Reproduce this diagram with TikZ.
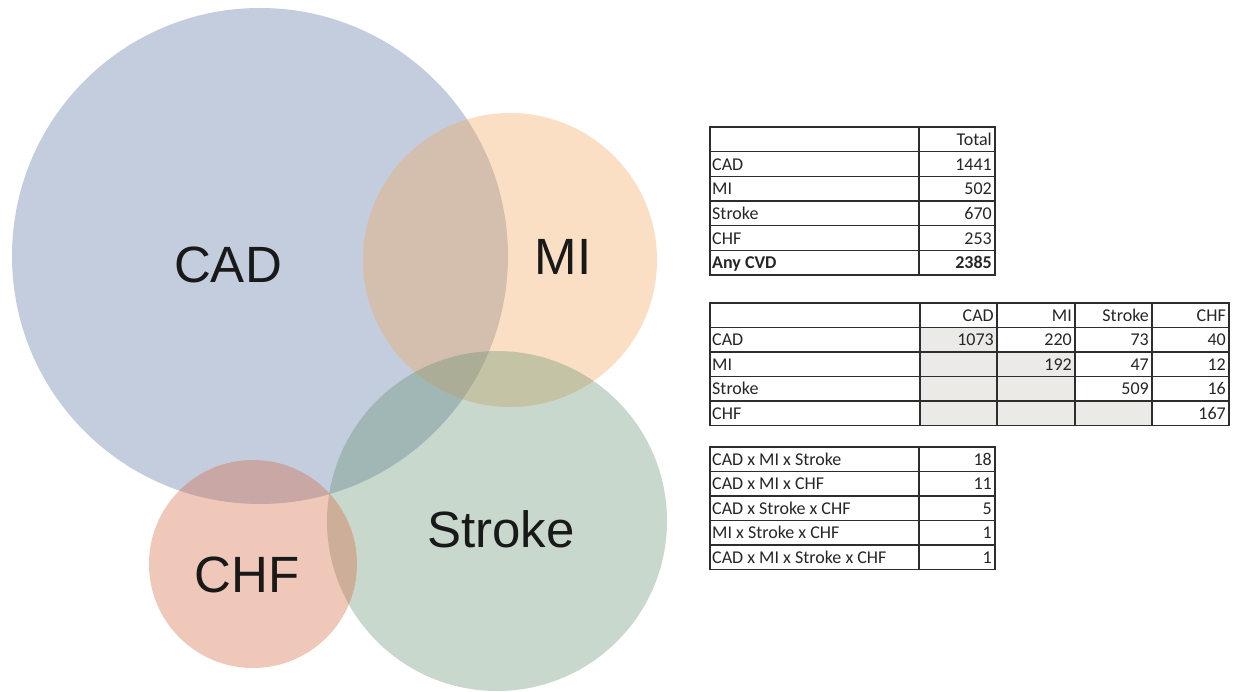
\documentclass[tikz,border=0pt]{standalone}
\usepackage{fontspec}
\setmainfont{Liberation Sans}
\newfontfamily\calfont{Carlito}
\definecolor{cadc}{RGB}{84,112,161}
\definecolor{mic}{RGB}{246,164,86}
\definecolor{strc}{RGB}{98,144,109}
\definecolor{chfc}{RGB}{212,98,58}
\definecolor{gridc}{RGB}{45,45,45}
\definecolor{cellgray}{RGB}{236,234,231}
\begin{document}
\begin{tikzpicture}[x=1pt,y=-1pt,
  venn/.style={font=\fontsize{51}{60}\selectfont, inner sep=0pt, anchor=base, text=black!90},
  lcell/.style={font=\calfont\fontsize{18}{21}\selectfont, inner sep=0pt, anchor=base west, text=black!85},
  rcell/.style={font=\calfont\fontsize{18}{21}\selectfont, inner sep=0pt, anchor=base east, text=black!85},
  grid/.style={draw=gridc, line width=1.2pt},
  blob/.style={fill opacity=0.35}]
\useasboundingbox (0,0) rectangle (1238,692);
\fill[white] (0,0) rectangle (1238,692);

% ---- Venn circles ----
\fill[cadc, blob] (260,256) circle (248pt);
\fill[mic, blob] (510,260) circle (147pt);
\fill[strc, blob] (497,521) circle (170pt);
\fill[chfc, blob] (253,564) circle (104pt);

\node[venn] (tcad) at (228,283) {CAD};
\node[venn] (tmi) at (563,275) {MI};
\node[venn] (tstroke) at (501,547) {Stroke};
\node[venn] (tchf) at (247,592) {CHF};

% ---- Table 1 ----
\draw[grid] (710,127) rectangle (995,275);
\foreach \i in {1,...,5} \draw[grid] (710,{127+\i*24.67}) -- (995,{127+\i*24.67});
\draw[grid] (919,127) -- (919,275);
\node[rcell] (t1h) at (992,{127+0.5*24.67+6}) {Total};
\foreach \lab/\val [count=\i] in {CAD/1441, MI/502, Stroke/670, CHF/253} {
  \node[lcell] (t1l\i) at (712,{127+(\i+0.5)*24.67+6}) {\lab};
  \node[rcell] (t1v\i) at (992,{127+(\i+0.5)*24.67+6}) {\val};
}
\node[lcell, font=\calfont\bfseries\fontsize{18}{21}\selectfont] (t1l5) at (712,{127+5.5*24.67+6}) {Any CVD};
\node[rcell, font=\calfont\bfseries\fontsize{18}{21}\selectfont] (t1v5) at (992,{127+5.5*24.67+6}) {2385};

% ---- Table 2 ----
\fill[cellgray] (920,327.5) rectangle (997,425.5);
\fill[cellgray] (997,352) rectangle (1075,425.5);
\fill[cellgray] (1075,401) rectangle (1152,425.5);
\draw[grid] (710,303) rectangle (1229,425.5);
\foreach \i in {1,...,4} \draw[grid] (710,{303+\i*24.5}) -- (1229,{303+\i*24.5});
\foreach \x in {920,997,1075,1152} \draw[grid] (\x,303) -- (\x,425.5);
\foreach \h/\x [count=\j] in {CAD/994, MI/1072, Stroke/1149, CHF/1226}
  \node[rcell] (t2h\j) at (\x,{303+0.5*24.5+6}) {\h};
\foreach \lab/\a/\b/\c/\d [count=\i] in {CAD/1073/220/73/40, MI//192/47/12, Stroke///509/16, CHF////167} {
  \node[lcell] (t2l\i) at (712,{303+(\i+0.5)*24.5+6}) {\lab};
  \node[rcell] (t2a\i) at (994,{303+(\i+0.5)*24.5+6}) {\a};
  \node[rcell] (t2b\i) at (1072,{303+(\i+0.5)*24.5+6}) {\b};
  \node[rcell] (t2c\i) at (1149,{303+(\i+0.5)*24.5+6}) {\c};
  \node[rcell] (t2d\i) at (1226,{303+(\i+0.5)*24.5+6}) {\d};
}

% ---- Table 3 ----
\draw[grid] (710,447) rectangle (995,569.5);
\foreach \i in {1,...,4} \draw[grid] (710,{447+\i*24.5}) -- (995,{447+\i*24.5});
\draw[grid] (919,447) -- (919,569.5);
\foreach \lab/\val [count=\i from 0] in {CAD x MI x Stroke/18, CAD x MI x CHF/11, CAD x Stroke x CHF/5, MI x Stroke x CHF/1, CAD x MI x Stroke x CHF/1} {
  \node[lcell] (t3l\i) at (712,{447+(\i+0.5)*24.5+6}) {\lab};
  \node[rcell] (t3v\i) at (992,{447+(\i+0.5)*24.5+6}) {\val};
}
\end{tikzpicture}
\end{document}
